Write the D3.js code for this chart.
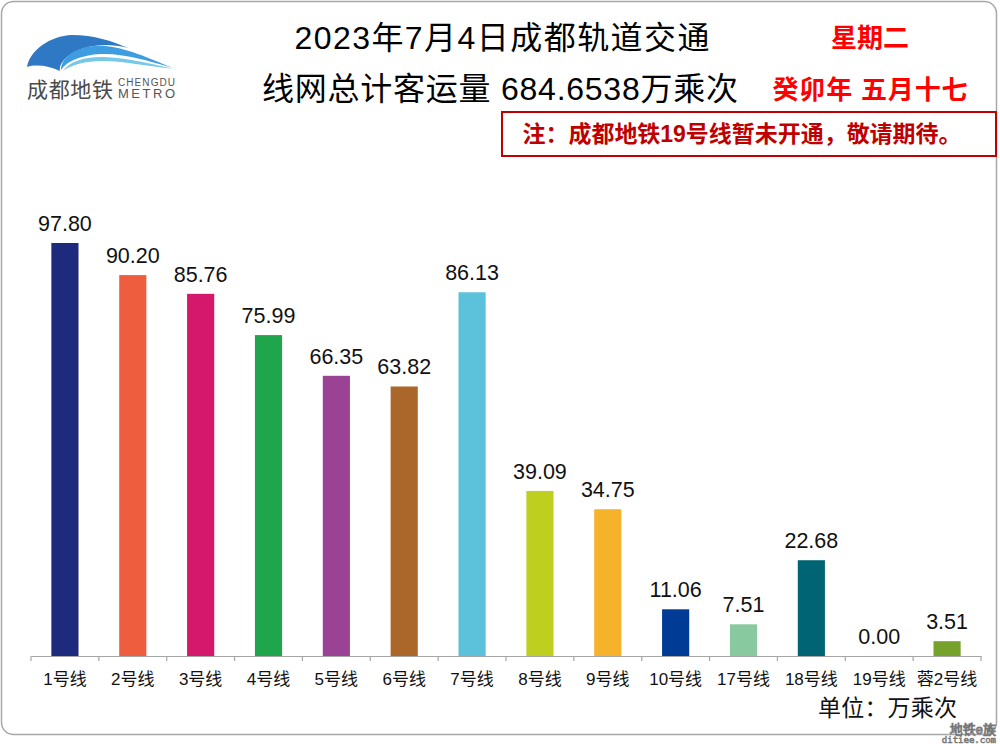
<!DOCTYPE html>
<html><head><meta charset="utf-8">
<script src="https://cdn.jsdelivr.net/npm/d3@7"></script>
<style>body{margin:0;background:#fff}svg{display:block}</style>
</head><body>
<script>
const categories = ["1号线","2号线","3号线","4号线","5号线","6号线","7号线","8号线","9号线","10号线","17号线","18号线","19号线","蓉2号线"];
const values = [97.80,90.20,85.76,75.99,66.35,63.82,86.13,39.09,34.75,11.06,7.51,22.68,0.00,3.51];
const colors = ["#1e2a7b","#ee5d3e","#d5186b","#1fa64c","#9a4294","#ab6629","#5cc2dc","#bfcf1f","#f6b22a","#003c95","#88c9a0","#006474","#888888","#76a22b"];
const title1 = "2023年7月4日成都轨道交通";
const title2 = "线网总计客运量 684.6538万乘次";

const W=1000,H=744;
const svg=d3.select("body").append("svg").attr("width",W).attr("height",H);
const font="'Liberation Sans','Noto Sans CJK SC',Arial,sans-serif";

svg.append("rect").attr("x",1.5).attr("y",1.5).attr("width",995).attr("height",733).attr("rx",12)
  .attr("fill","#fff").attr("stroke","#a8a8a8").attr("stroke-width",1.5);

// logo
const lg=svg.append("g");
lg.append("path").attr("d","M27,67 C30,50 50,36 72,35 C94,35 112,41 128,48 C104,42 84,46 71,54 C62,60 59,66 60,71 C50,66 36,64 27,67 Z").attr("fill","#2e78c4");
lg.append("path").attr("d","M61,70 C61,58 74,48 94,46 C115,44 140,54 173,68 C146,60 122,53 101,54 C81,55 67,61 61,70 Z").attr("fill","#3d9de0");
lg.append("path").attr("d","M63,71 C69,62 83,57 101,57 C121,57 146,62 173,69 C148,66 122,61 103,61 C85,61 71,65 63,71 Z").attr("fill","#78c8e8");

lg.append("text").attr("x",27).attr("y",97).attr("font-family",font).attr("font-size",21).attr("fill","#4a4a4a").attr("textLength",86).text("成都地铁");
lg.append("text").attr("x",118).attr("y",86).attr("font-family",font).attr("font-size",10).attr("fill","#555").attr("textLength",57).text("CHENGDU");
lg.append("text").attr("x",118).attr("y",98).attr("font-family",font).attr("font-size",13).attr("fill","#555").attr("textLength",57).text("METRO");

// titles
svg.append("text").attr("x",502).attr("y",49).attr("text-anchor","middle").attr("font-family",font).attr("font-size",32).attr("fill","#000").attr("textLength",415).text(title1);
svg.append("text").attr("x",500).attr("y",100).attr("text-anchor","middle").attr("font-family",font).attr("font-size",32).attr("fill","#000").attr("textLength",476).text(title2);
svg.append("text").attr("x",870).attr("y",47).attr("text-anchor","middle").attr("font-family",font).attr("font-size",26).attr("font-weight","bold").attr("fill","#ff0000").text("星期二");
svg.append("text").attr("x",870).attr("y",99).attr("text-anchor","middle").attr("font-family",font).attr("font-size",26).attr("font-weight","bold").attr("fill","#ff0000").attr("textLength",195).text("癸卯年 五月十七");

svg.append("rect").attr("x",502).attr("y",112).attr("width",494).attr("height",44).attr("fill","none").attr("stroke","#c00000").attr("stroke-width",2);
svg.append("text").attr("x",742).attr("y",142).attr("text-anchor","middle").attr("font-family",font).attr("font-size",23).attr("font-weight","bold").attr("fill","#c00000").attr("textLength",439).text("注：成都地铁19号线暂未开通，敬请期待。");

// chart
const x=d3.scaleBand().domain(categories).range([31,981]).paddingInner(0.6).paddingOuter(0.3);
const y=d3.scaleLinear().domain([0,100]).range([656,233.7]);
const g=svg.append("g");
g.selectAll("rect.bar").data(values).join("rect").attr("class","bar")
  .attr("x",(d,i)=>x(categories[i])).attr("width",x.bandwidth())
  .attr("y",d=>y(d)).attr("height",d=>y(0)-y(d)).attr("fill",(d,i)=>colors[i]);
g.selectAll("text.val").data(values).join("text").attr("class","val")
  .attr("x",(d,i)=>x(categories[i])+x.bandwidth()/2).attr("y",d=>y(d)-12)
  .attr("text-anchor","middle").attr("font-family",font).attr("font-size",21.5).attr("fill","#111")
  .text(d=>d.toFixed(2));

const xb=d3.scaleBand().domain(categories).range([31,981]);
const ax=svg.append("g").attr("transform","translate(0,656)")
  .call(d3.axisBottom(xb).tickSize(0).tickPadding(17));
ax.select(".domain").attr("stroke","#a6a6a6").attr("stroke-width",1.2);
ax.selectAll("text").attr("font-family",font).attr("font-size",17).attr("fill","#111");
const tickPos=categories.map(c=>xb(c)).concat([981]);
svg.append("g").selectAll("line").data(tickPos).join("line")
  .attr("x1",d=>d).attr("x2",d=>d).attr("y1",656).attr("y2",661).attr("stroke","#a6a6a6").attr("stroke-width",1.2);

svg.append("text").attr("x",818).attr("y",716).attr("text-anchor","start").attr("font-family",font).attr("font-size",23).attr("fill","#111").attr("textLength",139).text("单位：万乘次");

// watermark
svg.append("text").attr("x",996).attr("y",734).attr("text-anchor","end").attr("font-family",font).attr("font-size",13).attr("fill","#fff").attr("stroke","#777").attr("stroke-width",0.9).text("地铁e族");
svg.append("text").attr("x",996).attr("y",743).attr("text-anchor","end").attr("font-family","'DejaVu Sans Mono',monospace").attr("font-size",9).attr("fill","#fff").attr("stroke","#777").attr("stroke-width",0.7).text("ditiee.com");
</script>
</body></html>
